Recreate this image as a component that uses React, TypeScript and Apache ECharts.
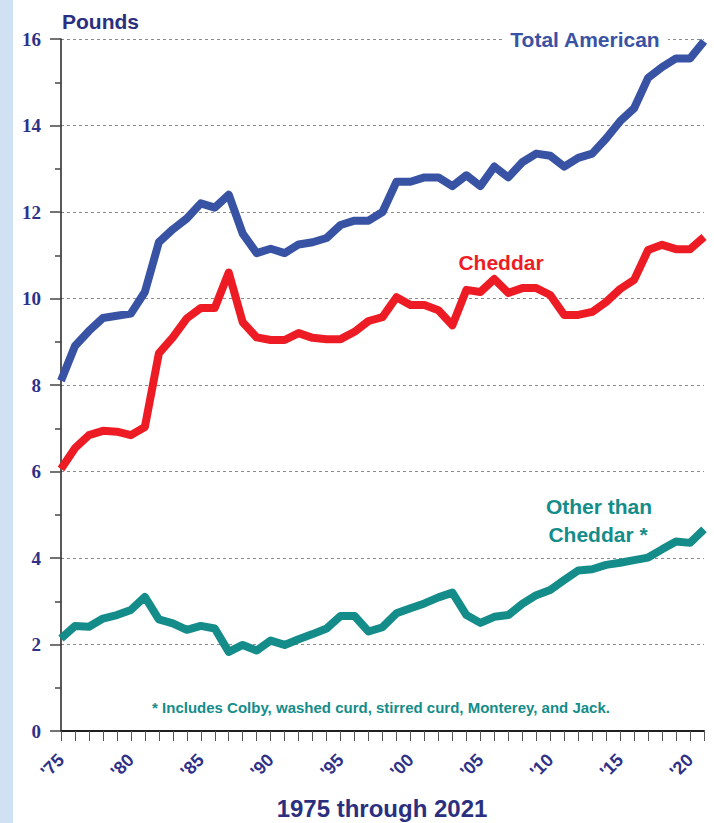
import React, { useEffect, useRef } from "react";
import * as echarts from "echarts";

const years: number[] = [];
for (let y = 1975; y <= 2021; y++) years.push(y);

const totalAmerican = [8.1, 8.9, 9.25, 9.55, 9.6, 9.65, 10.15, 11.3, 11.6, 11.85,
  12.2, 12.1, 12.4, 11.5, 11.05, 11.15, 11.05, 11.25, 11.3, 11.4,
  11.7, 11.8, 11.8, 12.0, 12.7, 12.7, 12.8, 12.8, 12.6, 12.85,
  12.6, 13.05, 12.8, 13.15, 13.35, 13.3, 13.05, 13.25, 13.35, 13.7,
  14.1, 14.4, 15.1, 15.35, 15.55, 15.55, 15.95];

const cheddar = [6.06, 6.54, 6.84, 6.94, 6.92, 6.84, 7.03, 8.73, 9.1, 9.54,
  9.78, 9.78, 10.6, 9.45, 9.1, 9.04, 9.04, 9.2, 9.09, 9.06,
  9.06, 9.23, 9.48, 9.57, 10.03, 9.85, 9.85, 9.73, 9.38, 10.2,
  10.15, 10.45, 10.13, 10.24, 10.24, 10.08, 9.62, 9.62, 9.69, 9.92,
  10.22, 10.43, 11.12, 11.24, 11.14, 11.14, 11.42];

const otherThanCheddar = [2.14, 2.43, 2.41, 2.6, 2.68, 2.8, 3.1, 2.58, 2.49, 2.34,
  2.43, 2.37, 1.83, 1.99, 1.86, 2.09, 1.99, 2.12, 2.24, 2.37,
  2.66, 2.66, 2.3, 2.4, 2.72, 2.84, 2.95, 3.09, 3.2, 2.68,
  2.5, 2.64, 2.68, 2.94, 3.14, 3.26, 3.49, 3.71, 3.74, 3.84,
  3.89, 3.95, 4.01, 4.2, 4.38, 4.35, 4.66];

const yTicks = [0, 2, 4, 6, 8, 10, 12, 14, 16];
const labelYears = [1975, 1980, 1985, 1990, 1995, 2000, 2005, 2010, 2015, 2020];

const NAVY = "#2E3187";
const BLUE = "#3953A4";
const RED = "#ED1C24";
const TEAL = "#148C8A";
const SANS = "'Liberation Sans', Arial, sans-serif";

export default function App() {
  const ref = useRef<HTMLDivElement>(null);
  useEffect(() => {
    if (!ref.current) return;
    const chart = echarts.init(ref.current, null, { renderer: "svg" });
    const toPairs = (arr: number[]) => years.map((y, i) => [y, arr[i]]);
    const lineSeries = (name: string, arr: number[], color: string) => ({
      name,
      type: "line",
      data: toPairs(arr),
      showSymbol: false,
      symbol: "none",
      lineStyle: { color, width: 8, join: "round", cap: "butt" },
      z: 5,
    });
    chart.setOption({
      animation: false,
      backgroundColor: "#ffffff",
      grid: { left: 61, right: 10, top: 39, bottom: 92, containLabel: false },
      xAxis: {
        type: "value",
        min: 1975,
        max: 2021,
        interval: 1,
        axisLine: { show: true, lineStyle: { color: "#231f20", width: 2 } },
        axisTick: { show: true, length: 10, lineStyle: { color: "#555", width: 1 } },
        splitLine: { show: false },
        axisLabel: {
          rotate: 45,
          margin: 26,
          color: NAVY,
          fontFamily: SANS,
          fontWeight: "bold",
          fontSize: 18,
          formatter: (v: number) =>
            labelYears.includes(v) ? "'" + String(v).slice(2) : "",
        },
      },
      yAxis: {
        type: "value",
        min: 0,
        max: 16,
        interval: 2,
        axisLine: { show: true, lineStyle: { color: "#231f20", width: 1.5 } },
        axisTick: { show: true, length: 11, lineStyle: { color: "#444", width: 1.5 } },
        minorTick: { show: true, splitNumber: 2, length: 6, lineStyle: { color: "#444", width: 1.5 } },
        splitLine: {
          show: true,
          lineStyle: { color: "#8a8a8a", width: 1, type: [3, 3] },
        },
        axisLabel: {
          margin: 20,
          color: NAVY,
          fontFamily: "'Liberation Serif', 'Times New Roman', serif",
          fontWeight: "bold",
          fontSize: 19,
          formatter: (v: number) => (yTicks.includes(v) ? String(v) : ""),
        },
      },
      series: [
        lineSeries("Total American", totalAmerican, BLUE),
        lineSeries("Cheddar", cheddar, RED),
        lineSeries("Other than Cheddar *", otherThanCheddar, TEAL),
      ],
      graphic: [
        {
          type: "rect",
          z: 0,
          shape: { x: 0, y: 0, width: 13, height: 823 },
          style: { fill: "#cfe1f3" },
        },
        {
          type: "text",
          x: 62,
          y: 11,
          z: 100,
          style: {
            text: "Pounds",
            fill: "#2B2F80",
            font: "bold 21px " + SANS,
            textAlign: "left",
            textVerticalAlign: "top",
          },
        },
        {
          type: "rect",
          z: 90,
          shape: { x: 502, y: 27, width: 166, height: 24 },
          style: { fill: "#ffffff" },
        },
        {
          type: "text",
          x: 585,
          y: 39,
          z: 100,
          style: {
            text: "Total American",
            fill: BLUE,
            font: "bold 21px " + SANS,
            textAlign: "center",
            textVerticalAlign: "middle",
          },
        },
        {
          type: "text",
          x: 501,
          y: 262,
          z: 100,
          style: {
            text: "Cheddar",
            fill: RED,
            font: "bold 21px " + SANS,
            textAlign: "center",
            textVerticalAlign: "middle",
          },
        },
        {
          type: "text",
          x: 599,
          y: 506,
          z: 100,
          style: {
            text: "Other than",
            fill: TEAL,
            font: "bold 21px " + SANS,
            textAlign: "center",
            textVerticalAlign: "middle",
          },
        },
        {
          type: "text",
          x: 598,
          y: 534,
          z: 100,
          style: {
            text: "Cheddar *",
            fill: TEAL,
            font: "bold 21px " + SANS,
            textAlign: "center",
            textVerticalAlign: "middle",
          },
        },
        {
          type: "text",
          x: 381,
          y: 707,
          z: 100,
          style: {
            text: "* Includes Colby, washed curd, stirred curd, Monterey, and Jack.",
            fill: TEAL,
            font: "bold 15px " + SANS,
            textAlign: "center",
            textVerticalAlign: "middle",
          },
        },
        {
          type: "text",
          x: 382,
          y: 808,
          z: 100,
          style: {
            text: "1975 through 2021",
            fill: "#2B2F80",
            font: "bold 24px " + SANS,
            textAlign: "center",
            textVerticalAlign: "middle",
          },
        },
      ],
    });
    return () => chart.dispose();
  }, []);
  return (
    <div
      ref={ref}
      style={{ position: "fixed", left: 0, top: 0, width: 714, height: 823, background: "#fff" }}
    />
  );
}
